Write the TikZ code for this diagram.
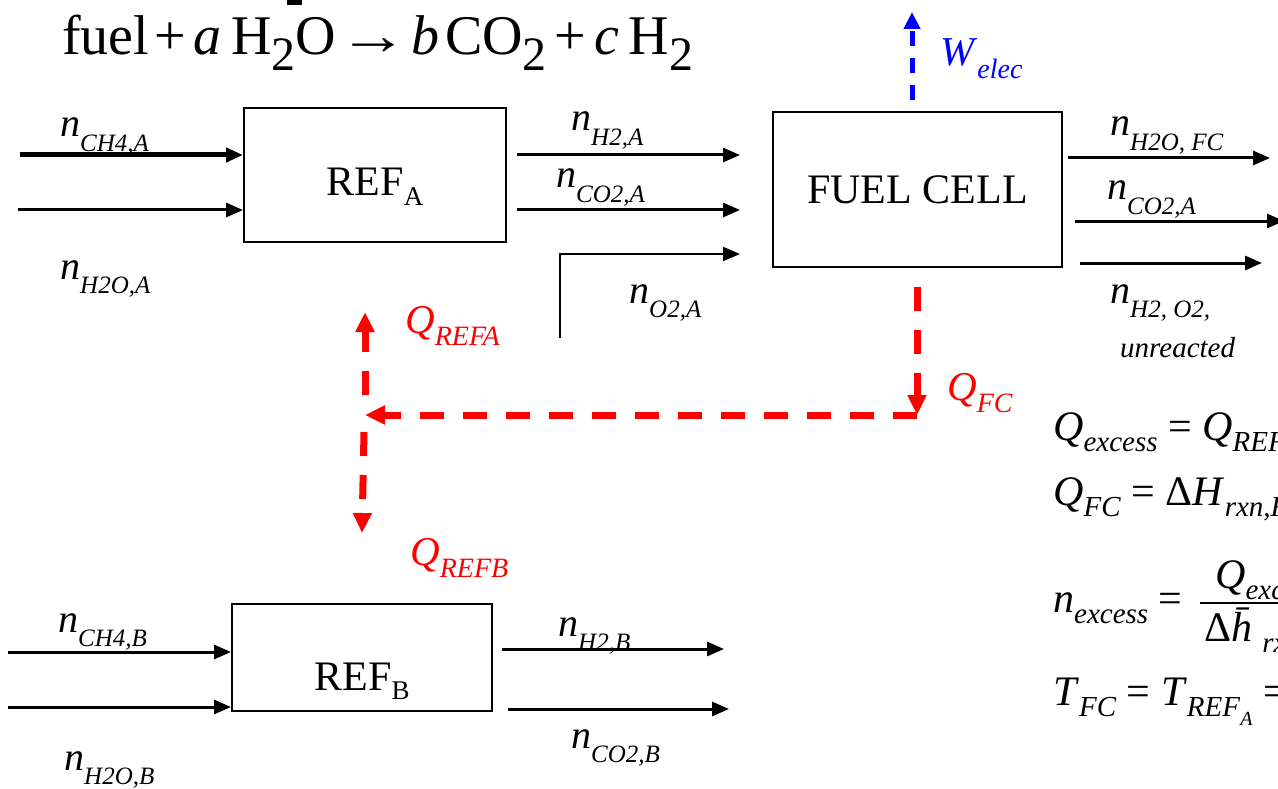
\documentclass[tikz,border=0pt]{standalone}
\usepackage{fontspec}
\usepackage{graphicx}
\setmainfont{Liberation Serif}
\usetikzlibrary{arrows.meta}
\definecolor{heatred}{RGB}{255,0,0}
\definecolor{workblue}{RGB}{0,0,255}

\newcommand{\rxlow}[1]{\raisebox{-0.28em}{\fontsize{48}{48}\selectfont #1}}
\newcommand{\nlbl}[2]{{\fontsize{40}{40}\selectfont\textit{#1}\raisebox{-0.36em}{\fontsize{25}{25}\selectfont\textit{#2}}}}
\newcommand{\qlbl}[2]{{\fontsize{41}{41}\selectfont\textit{#1}\raisebox{-0.3em}{\fontsize{28}{28}\selectfont\textit{#2}}}}
\newcommand{\unitlbl}[2]{{\fontsize{42}{42}\selectfont #1\raisebox{-0.22em}{\fontsize{27}{27}\selectfont #2}}}
\newcommand{\eqlbl}[2]{\textit{#1}\raisebox{-0.28em}{\fontsize{29}{29}\selectfont\textit{#2}}}

\tikzset{
	unit/.style={draw, line width=2pt, inner sep=0pt, text depth=0pt},
	flow/.style={line width=3pt, -{Triangle[length=17pt,width=14pt]}},
	heatflow/.style={heatred, line width=7pt, dash pattern=on 24pt off 19pt, -{Triangle[length=20pt,width=18pt]}},
	workflow/.style={workblue, line width=5pt, dash pattern=on 15pt off 12pt, -{Triangle[length=17pt,width=16pt]}},
	lbl/.style={anchor=base west, inner sep=0pt},
	heatlbl/.style={lbl, heatred},
	eq/.style={lbl, font=\fontsize{42}{42}\selectfont}
}

\begin{document}
\begin{tikzpicture}[x=1pt, y=-1pt]
	\useasboundingbox (0,0) rectangle (1278,789);

	% Reaktion
	\node[lbl] (rxn) at (62,55) {\fontsize{56}{56}\selectfont fuel\kern5pt+\kern8pt\textit{a}\,H\rxlow{2}O\kern2pt\scalebox{1.25}[1]{→}\kern3pt\textit{b}\kern6pt CO\rxlow{2}\kern8pt+\kern8pt\textit{c}\,H\rxlow{2}};
	\fill (287,0) rectangle (302,5);

	% Reformer A
	\node[unit, minimum width=262pt, minimum height=134pt, text height=42pt] (refA) at (375,175) {\unitlbl{REF}{A}};

	\coordinate (inA1) at (20,155);
	\coordinate (inA2) at (18,210);
	\draw[flow, line width=5pt] (inA1) -- (inA1 -| refA.west);
	\draw[flow] (inA2) -- (inA2 -| refA.west);
	\node[lbl] (nCH4A) at (60,137) {\nlbl{n}{CH4,A}};
	\node[lbl] (nH2OA) at (60,279) {\nlbl{n}{H2O,A}};

	\coordinate (outA1) at (517,155);
	\coordinate (outA2) at (517,210);
	\coordinate (inO2) at (560,338);
	\draw[flow] (outA1) -- (740,155);
	\draw[flow] (outA2) -- (740,210);
	\draw[flow, line width=2pt] (inO2) |- (740,254);
	\node[lbl] (nH2A) at (571,131) {\nlbl{n}{H2,A}};
	\node[lbl] (nCO2A) at (556,188) {\nlbl{n}{CO2,A}};
	\node[lbl] (nO2A) at (629,303) {\nlbl{n}{O2,A}};

	% Brennstoffzelle
	\node[unit, minimum width=289pt, minimum height=155pt, text height=29pt] (FC) at (917.5,189.5) {\fontsize{42}{42}\selectfont FUEL CELL};

	\coordinate (outF1) at (1068,158);
	\coordinate (outF2) at (1075,221);
	\coordinate (outF3) at (1080,263);
	\draw[flow] (outF1) -- (1270,158);
	\draw[flow] (outF2) -- (1284,221);
	\draw[flow] (outF3) -- (1262,263);
	\node[lbl] (nH2OF) at (1110,136) {\nlbl{n}{H2O, FC}};
	\node[lbl] (nCO2F) at (1107,200) {\nlbl{n}{CO2,A}};
	\node[lbl] (nRest) at (1110,303) {\nlbl{n}{H2, O2,}};
	\node[lbl] (unreac) at (1120,357) {\fontsize{29}{29}\selectfont\textit{unreacted}};

	% Arbeit
	\coordinate (w0) at (912,100);
	\draw[workflow] (w0) -- (912,12);
	\node[lbl, workblue] (Welec) at (940,66) {\qlbl{W}{elec}};

	% Waerme
	\coordinate (qfc0) at (917,287);
	\coordinate (qfc1) at (917,415);
	\coordinate (qsplit) at (365,415);
	\draw[heatflow] (qfc0) -- (qfc1);
	\draw[heatflow] (qfc1) -- (qsplit);
	\draw[heatflow] (365,395) -- (365,312);
	\draw[heatflow] (364,432) -- (362,533);
	\node[heatlbl] (QFC) at (947,400) {\qlbl{Q}{FC}};
	\node[heatlbl] (QREFA) at (405,333) {\qlbl{Q}{REFA}};
	\node[heatlbl] (QREFB) at (410,565) {\qlbl{Q}{REFB}};

	% Reformer B
	\node[unit, minimum width=260pt, minimum height=107pt, text height=66pt] (refB) at (362,657.5) {\unitlbl{REF}{B}};

	\coordinate (inB1) at (8,652);
	\coordinate (inB2) at (8,707);
	\draw[flow] (inB1) -- (inB1 -| refB.west);
	\draw[flow] (inB2) -- (inB2 -| refB.west);
	\node[lbl] (nCH4B) at (58,632) {\nlbl{n}{CH4,B}};
	\node[lbl] (nH2OB) at (64,770) {\nlbl{n}{H2O,B}};

	\coordinate (outB1) at (502,649);
	\coordinate (outB2) at (508,709);
	\draw[flow] (outB1) -- (724,649);
	\draw[flow] (outB2) -- (729,709);
	\node[lbl] (nH2B) at (558,636) {\nlbl{n}{H2,B}};
	\node[lbl] (nCO2B) at (571,748) {\nlbl{n}{CO2,B}};

	% Gleichungen
	\node[eq] (eqQ) at (1053,440) {\eqlbl{Q}{excess} = \eqlbl{Q}{REFA}};
	\node[eq] (eqFC) at (1053,505) {\eqlbl{Q}{FC} = Δ\eqlbl{H}{rxn,FC}};
	\node[eq] (eqn) at (1053,612) {\eqlbl{n}{excess} =};
	\node[eq] (eqnum) at (1215,588) {\eqlbl{Q}{excess}};
	\draw[line width=1.5pt] (1200,603) -- (1320,603);
	\node[eq] (eqden) at (1204,641) {Δ\eqlbl{\=h}{rxn}};
	\node[eq] (eqT) at (1053,705) {\eqlbl{T}{FC} = \textit{T}\raisebox{-0.28em}{\fontsize{29}{29}\selectfont\textit{REF}\raisebox{-0.3em}{\fontsize{20}{20}\selectfont\textit{A}}} = \eqlbl{T}{REFB}};
\end{tikzpicture}
\end{document}
